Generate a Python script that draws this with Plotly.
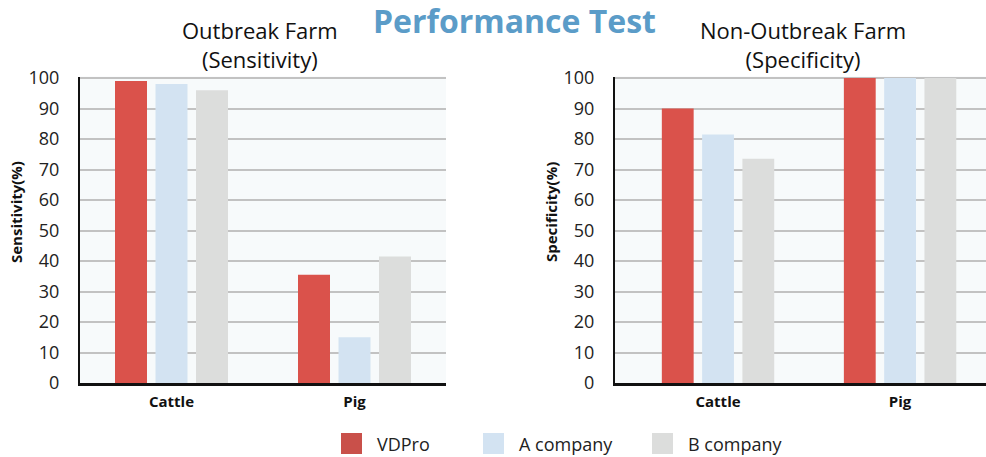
import plotly.graph_objects as go

categories = ["Cattle", "Pig"]
series_names = ["VDPro", "A company", "B company"]
sensitivity = {
    "VDPro": [99, 35.5],
    "A company": [98, 15],
    "B company": [96, 41.5],
}
specificity = {
    "VDPro": [90, 100],
    "A company": [81.5, 100],
    "B company": [73.5, 100],
}
y_ticks = list(range(0, 101, 10))
colors = {"VDPro": "#da524b", "A company": "#d3e3f2", "B company": "#dcdddc"}
legend_colors = {"VDPro": "#c9504a", "A company": "#d3e3f2", "B company": "#dcdddc"}

FONT = "Open Sans"
W, H = 986, 457

fig = go.Figure()
for name in series_names:
    fig.add_trace(go.Bar(x=categories, y=sensitivity[name], name=name,
                         marker=dict(color=colors[name], line=dict(width=0)),
                         xaxis="x", yaxis="y", showlegend=False))
for name in series_names:
    fig.add_trace(go.Bar(x=categories, y=specificity[name], name=name,
                         marker=dict(color=colors[name], line=dict(width=0)),
                         xaxis="x2", yaxis="y2", showlegend=False))

ydom = [(H - 383) / H, (H - 76.5) / H]
xdom1 = [80 / W, 446 / W]
xdom2 = [615 / W, 1.0]

yax = dict(range=[0, 100.5], tickvals=y_ticks, showgrid=True, gridcolor="#c2c2c2",
           gridwidth=2, showline=True, linecolor="#111", linewidth=2, zeroline=False,
           tickfont=dict(size=18, color="#222", family=FONT), ticks="",
           ticklabelstandoff=15, domain=ydom, fixedrange=True, automargin=False)
xax = dict(showline=True, linecolor="#111", linewidth=3, ticks="",
           tickfont=dict(size=15, color="#111", family=FONT, weight="bold"),
           ticklabelstandoff=3, fixedrange=True, automargin=False)

fig.update_layout(
    template="none",
    width=W, height=H,
    autosize=False,
    margin=dict(l=0, r=0, t=0, b=0, pad=0, autoexpand=False),
    paper_bgcolor="white", plot_bgcolor="#f7fafb",
    barmode="group", bargap=0.336, bargroupgap=0.21,
    xaxis=dict(domain=xdom1, anchor="y", range=[-0.5, 1.5], **xax),
    yaxis=dict(anchor="x", **yax),
    xaxis2=dict(domain=xdom2, anchor="y2", range=[-0.566, 1.472], **xax),
    yaxis2=dict(anchor="x2", **yax),
    showlegend=False,
    font=dict(family=FONT),
)

def ann(text, px, py, size, color="#111", angle=0, xanchor="center"):
    return dict(text=text, x=px / W, y=1 - py / H, xref="paper", yref="paper",
                xanchor=xanchor, yanchor="middle", showarrow=False, textangle=angle,
                font=dict(size=size, color=color, family=FONT))

annotations = [
    ann("<b>Performance Test</b>", 514, 21, 32, color="#5b9cc8"),
    ann("Outbreak Farm<br>(Sensitivity)", 260, 45, 22),
    ann("Non-Outbreak Farm<br>(Specificity)", 803, 45, 22),
    ann("<b>Sensitivity(%)</b>", 16, 212, 15, angle=-90),
    ann("<b>Specificity(%)</b>", 551, 212, 15, angle=-90),
]

shapes = []
legend_x = [341, 483, 652]
for lx, name in zip(legend_x, series_names):
    shapes.append(dict(type="rect", xref="paper", yref="paper",
                       x0=lx / W, x1=(lx + 21) / W, y0=(H - 454) / H, y1=(H - 433) / H,
                       fillcolor=legend_colors[name], line=dict(width=0)))
    annotations.append(ann(name, lx + 34, 444, 18, color="#222", xanchor="left"))

fig.update_layout(annotations=annotations, shapes=shapes)
fig.write_html("out.html", config={"displayModeBar": False},
               post_script="document.body.style.margin='0';document.body.style.overflow='hidden';")
